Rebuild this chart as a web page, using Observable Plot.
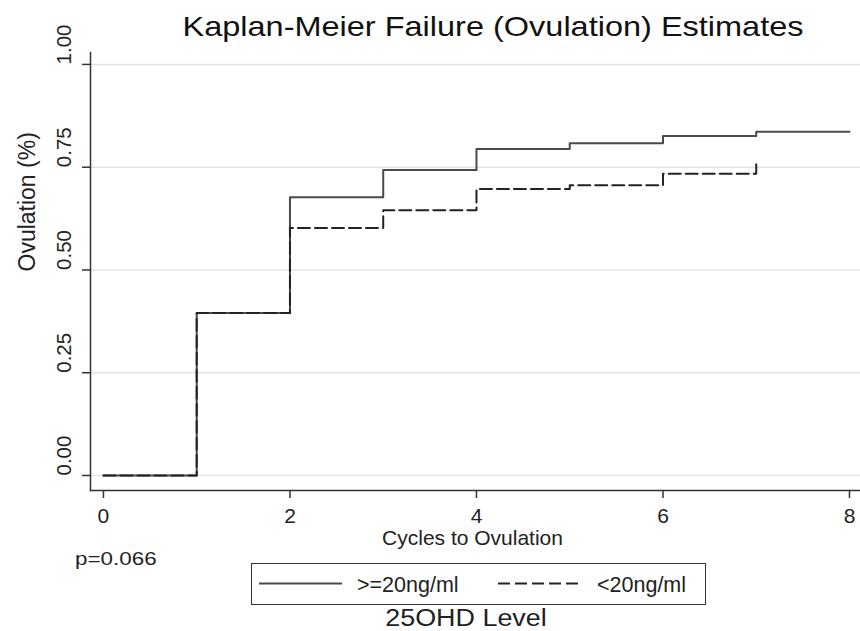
<!DOCTYPE html>
<html><head><meta charset="utf-8">
<script src="https://cdn.jsdelivr.net/npm/d3@7"></script>
<script src="https://cdn.jsdelivr.net/npm/@observablehq/plot@0.6"></script>
<style>
body{margin:0;background:#fff;}
#wrap{position:relative;width:860px;height:631px;font-family:"Liberation Sans",Arial,sans-serif;color:#222;overflow:hidden;}
#wrap svg.plot{position:absolute;left:0;top:0;}
.t{position:absolute;line-height:1;white-space:nowrap;}
#legend{position:absolute;left:251px;top:563px;width:455px;height:42px;border:1.5px solid #333;box-sizing:border-box;background:#fff;}
</style></head><body><div id="wrap"></div>
<script>
// data
const cycles = [0, 1, 2, 3, 4, 5, 6, 7, 8];
const highGroup = [0, 0.395, 0.677, 0.743, 0.794, 0.808, 0.826, 0.836, 0.836];
const lowCycles = [0, 1, 2, 3, 4, 5, 6, 7];
const lowGroup = [0, 0.395, 0.602, 0.645, 0.697, 0.706, 0.734, 0.761];
const seriesNames = [">=20ng/ml", "<20ng/ml"];
const xTicks = [0, 2, 4, 6, 8];
const yTicks = [0, 0.25, 0.5, 0.75, 1];
const titleText = "Kaplan-Meier Failure (Ovulation) Estimates";
const xLabel = "Cycles to Ovulation";
const yLabel = "Ovulation (%)";
const pText = "p=0.066";
const legendTitle = "25OHD Level";

const highData = cycles.map((c, i) => ({c, v: highGroup[i]}));
const lowData = lowCycles.map((c, i) => ({c, v: lowGroup[i]}));
const fmt = d3.format(".2f");
const font = "Liberation Sans, Arial, sans-serif";

const chart = Plot.plot({
  width: 860, height: 631,
  marginLeft: 90, marginRight: 0, marginTop: 52, marginBottom: 141,
  style: {fontFamily: font, background: "transparent", color: "#222"},
  x: {domain: [-0.139, 8.118]},
  y: {domain: [-0.0365, 1.029]},
  marks: [
    Plot.ruleY(yTicks, {stroke: "#e4e4e4", strokeWidth: 1.5}),
    Plot.frame({anchor: "left", stroke: "#333", strokeWidth: 1.5}),
    Plot.frame({anchor: "bottom", stroke: "#333", strokeWidth: 1.5}),
    Plot.axisY({ticks: yTicks, tickSize: 8, tickFormat: () => "", label: null, stroke: "#333", strokeWidth: 1.5}),
    Plot.text(yTicks, {y: d => d, text: d => fmt(d), frameAnchor: "left", dx: -26, rotate: -90, fontSize: 20.5, fill: "#222"}),
    Plot.text([yLabel], {text: d => d, frameAnchor: "left", dx: -63, rotate: -90, fontSize: 23, fill: "#222"}),
    Plot.axisX({ticks: xTicks, tickSize: 8, tickPadding: 10, fontSize: 21, label: null, stroke: "#333", strokeWidth: 1.5, tickFormat: d => String(d)}),
    Plot.text([xLabel], {text: d => d, frameAnchor: "bottom", dy: 40, dx: -3, lineAnchor: "top", fontSize: 21, fill: "#222"}),
    Plot.line(highData, {x: "c", y: "v", curve: "step-after", stroke: "#4a4a4a", strokeWidth: 2}),
    Plot.line(lowData, {x: "c", y: "v", curve: "step-after", stroke: "#222", strokeWidth: 2, strokeDasharray: "12,5"})
  ]
});
chart.classList.add("plot");
const wrap = document.getElementById("wrap");
wrap.appendChild(chart);

function addText(txt, css) {
  const d = document.createElement("div");
  d.className = "t";
  d.textContent = txt;
  Object.assign(d.style, css);
  wrap.appendChild(d);
  return d;
}
// reference text is slightly stretched horizontally
addText(titleText, {left: "0px", width: "986px", textAlign: "center", top: "13px", fontSize: "28px", color: "#111", transform: "scaleX(1.16)", transformOrigin: "493px 0"});
addText(pText, {left: "75px", top: "549px", fontSize: "19px", transform: "scaleX(1.18)", transformOrigin: "0 0"});

const lg = document.createElement("div");
lg.id = "legend";
wrap.appendChild(lg);
const sw = [{x: 8, dash: null, tx: 106}, {x: 247, dash: "12,5", tx: 346}];
const ns = "http://www.w3.org/2000/svg";
const lsvg = document.createElementNS(ns, "svg");
lsvg.setAttribute("width", 455); lsvg.setAttribute("height", 42);
lsvg.style.position = "absolute"; lsvg.style.left = "-1.5px"; lsvg.style.top = "-1.5px";
seriesNames.forEach((name, i) => {
  const l = document.createElementNS(ns, "line");
  l.setAttribute("x1", sw[i].x); l.setAttribute("x2", sw[i].x + 83);
  l.setAttribute("y1", 20.5); l.setAttribute("y2", 20.5);
  l.setAttribute("stroke", i === 0 ? "#4a4a4a" : "#222");
  l.setAttribute("stroke-width", 2);
  if (sw[i].dash) l.setAttribute("stroke-dasharray", sw[i].dash);
  lsvg.appendChild(l);
  const t = document.createElementNS(ns, "text");
  t.setAttribute("x", sw[i].tx); t.setAttribute("y", 28.5);
  t.setAttribute("font-size", 21.5); t.setAttribute("font-family", font);
  t.setAttribute("fill", "#222");
  t.textContent = name;
  lsvg.appendChild(t);
});
lg.appendChild(lsvg);
addText(legendTitle, {left: "0px", width: "932px", textAlign: "center", top: "607px", fontSize: "23px", transform: "scaleX(1.17)", transformOrigin: "466px 0"});
</script>
</body></html>
